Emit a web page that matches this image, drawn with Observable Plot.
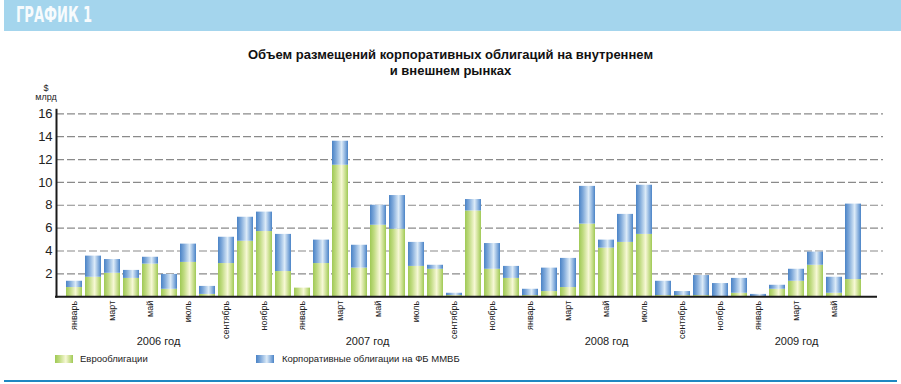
<!DOCTYPE html>
<html>
<head>
<meta charset="utf-8">
<script src="https://cdn.jsdelivr.net/npm/d3@7"></script>
<script src="https://cdn.jsdelivr.net/npm/@observablehq/plot@0.6"></script>
<style>
  html, body { margin: 0; padding: 0; background: #fff; }
  #wrap { position: relative; width: 901px; height: 384px; overflow: hidden; background: #fff; font-family: "Liberation Sans", Arial, sans-serif; color: #222; }
  .abs { position: absolute; white-space: nowrap; }
  #hdr { left: 4px; top: 0; width: 897px; height: 31px; background: #a4d5ed; }
  #hdrText { left: 16px; top: 1px; font: bold 22px/28px "DejaVu Sans Condensed", "DejaVu Sans", sans-serif; color: #f7fbfd; transform: scaleX(0.66); transform-origin: left center; }
  #title { left: 0; width: 901px; top: 47px; text-align: center; font: bold 13px/16px "Liberation Sans", Arial, sans-serif; color: #111; }
  .unit { font-size: 9px; line-height: 10px; text-align: center; width: 30px; left: 31px; color: #222; }
  #chart { left: 0; top: 100px; }
  .sw { width: 18px; height: 8px; top: 355px; }
  .lg { top: 353px; font-size: 9.5px; line-height: 12px; color: #222; }
  #bottomLine { left: 4px; top: 380px; width: 893px; height: 2px; background: #1f88c2; }
</style>
</head>
<body>
<svg width="0" height="0" style="position:absolute">
  <defs>
    <linearGradient id="gGreen" x1="0" x2="1" y1="0" y2="0">
      <stop offset="0" stop-color="#9fc955"/>
      <stop offset="0.25" stop-color="#c0db80"/>
      <stop offset="0.6" stop-color="#f7f8d6"/>
      <stop offset="0.85" stop-color="#c3dc85"/>
      <stop offset="1" stop-color="#9fc955"/>
    </linearGradient>
    <linearGradient id="gBlue" x1="0" x2="1" y1="0" y2="0">
      <stop offset="0" stop-color="#4a83c6"/>
      <stop offset="0.25" stop-color="#7fa9da"/>
      <stop offset="0.6" stop-color="#dcebf8"/>
      <stop offset="0.85" stop-color="#82abdb"/>
      <stop offset="1" stop-color="#4a83c6"/>
    </linearGradient>
  </defs>
</svg>
<div id="wrap">
  <div id="hdr" class="abs"></div>
  <div id="hdrText" class="abs">ГРАФИК 1</div>
  <div id="title" class="abs">Объем размещений корпоративных облигаций на внутреннем<br>и внешнем рынках</div>
  <div class="abs unit" style="top:83px">$</div>
  <div class="abs unit" style="top:92px">млрд</div>
  <div id="chart" class="abs"></div>
  <div class="abs sw" style="left:55px;background:linear-gradient(90deg,#9fc955 0%,#c0db80 25%,#f7f8d6 60%,#c3dc85 85%,#9fc955 100%)"></div>
  <div class="abs lg" style="left:80px" id="lg1"></div>
  <div class="abs sw" style="left:256px;background:linear-gradient(90deg,#4a83c6 0%,#7fa9da 25%,#dcebf8 60%,#82abdb 85%,#4a83c6 100%)"></div>
  <div class="abs lg" style="left:282px" id="lg2"></div>
  <div id="bottomLine" class="abs"></div>
</div>
<script>
// ---- data ----
const monthNames = ["январь","февраль","март","апрель","май","июнь","июль","август","сентябрь","октябрь","ноябрь","декабрь"];
const years = [2006, 2007, 2008, 2009];
const seriesNames = ["Еврооблигации", "Корпоративные облигации на ФБ ММВБ"];
// Eurobonds, $ bn (Jan 2006 – Jun 2009)
const euro = [
  0.8, 1.7, 2.05, 1.6, 2.85, 0.65, 3.0, 0.2, 2.9, 4.85, 5.7, 2.2,
  0.75, 2.9, 11.5, 2.5, 6.25, 5.9, 2.65, 2.4, 0.1, 7.5, 2.4, 1.6,
  0.1, 0.45, 0.8, 6.35, 4.25, 4.75, 5.45, 0.1, 0.1, 0.1, 0, 0.3,
  0, 0.65, 1.35, 2.75, 0.3, 1.5
];
// Corporate bonds on MICEX SE, $ bn
const mmvb = [
  0.55, 1.85, 1.2, 0.7, 0.6, 1.3, 1.6, 0.7, 2.3, 2.1, 1.7, 3.25,
  0, 2.05, 2.1, 2.0, 1.75, 2.95, 2.1, 0.35, 0.2, 1.0, 2.25, 1.05,
  0.55, 2.05, 2.55, 3.3, 0.7, 2.45, 4.3, 1.25, 0.35, 1.75, 1.15, 1.3,
  0.2, 0.35, 1.05, 1.15, 1.4, 6.6
];
const yTicks = [2, 4, 6, 8, 10, 12, 14, 16];
const yearLabels = [
  {label: "2006 год", month: "2006-05", group: "a"},
  {label: "2007 год", month: "2007-04", group: "a"},
  {label: "2008 год", month: "2008-05", group: "b"},
  {label: "2009 год", month: "2009-03", group: "b"}
];

// ---- build table ----
const monthKeys = [];
const monthLabel = new Map();
for (const yr of years) {
  for (let m = 0; m < 12; m++) {
    if (monthKeys.length >= euro.length) break;
    const key = `${yr}-${String(m + 1).padStart(2, "0")}`;
    monthKeys.push(key);
    monthLabel.set(key, m % 2 === 0 ? monthNames[m] : "");
  }
}
const rows = [];
monthKeys.forEach((k, i) => {
  rows.push({month: k, series: "euro", value: euro[i]});
  rows.push({month: k, series: "mmvb", value: mmvb[i]});
});

document.getElementById("lg1").textContent = seriesNames[0];
document.getElementById("lg2").textContent = seriesNames[1];

const chart = Plot.plot({
  width: 901,
  height: 252,
  marginLeft: 57.6,
  marginRight: 32,
  marginTop: 13.3,
  marginBottom: 55.8,
  style: {fontFamily: "'Liberation Sans', Arial, sans-serif", fontSize: "9px", color: "#222", background: "transparent", overflow: "visible"},
  x: {type: "band", domain: monthKeys, paddingInner: 0.14, paddingOuter: 0.07, label: null},
  y: {domain: [0, 16], label: null},
  color: {type: "ordinal", domain: ["euro", "mmvb"], range: ["url(#gGreen)", "url(#gBlue)"]},
  marks: [
    Plot.ruleY(yTicks, {stroke: "#8a8a8a", strokeWidth: 1.2, strokeDasharray: "8,3", insetLeft: -1.6, insetRight: -14}),
    Plot.barY(rows, {x: "month", y: "value", fill: "series"}),
    Plot.ruleY([0], {stroke: "#1a1a1a", strokeWidth: 2, insetLeft: -2.6, insetRight: -8}),
    Plot.frame({anchor: "left", stroke: "#1a1a1a", strokeWidth: 2, dx: -1.6, insetTop: -4}),
    Plot.axisY({ticks: yTicks, tickSize: 0, tickPadding: 5.5, fontSize: 13, label: null, fill: "#222"}),
    Plot.axisX({tickSize: 0, tickPadding: 4, tickRotate: -90, fontSize: 9, label: null, tickFormat: (d) => monthLabel.get(d), fill: "#222"}),
    Plot.text(yearLabels.filter(d => d.group === "a"), {x: "month", text: "label", frameAnchor: "bottom", dy: 48, dx: 8, fontSize: 11, fill: "#222"}),
    Plot.text(yearLabels.filter(d => d.group === "b"), {x: "month", text: "label", frameAnchor: "bottom", dy: 48, fontSize: 11, fill: "#222"})
  ]
});
document.getElementById("chart").appendChild(chart);
</script>
</body>
</html>
